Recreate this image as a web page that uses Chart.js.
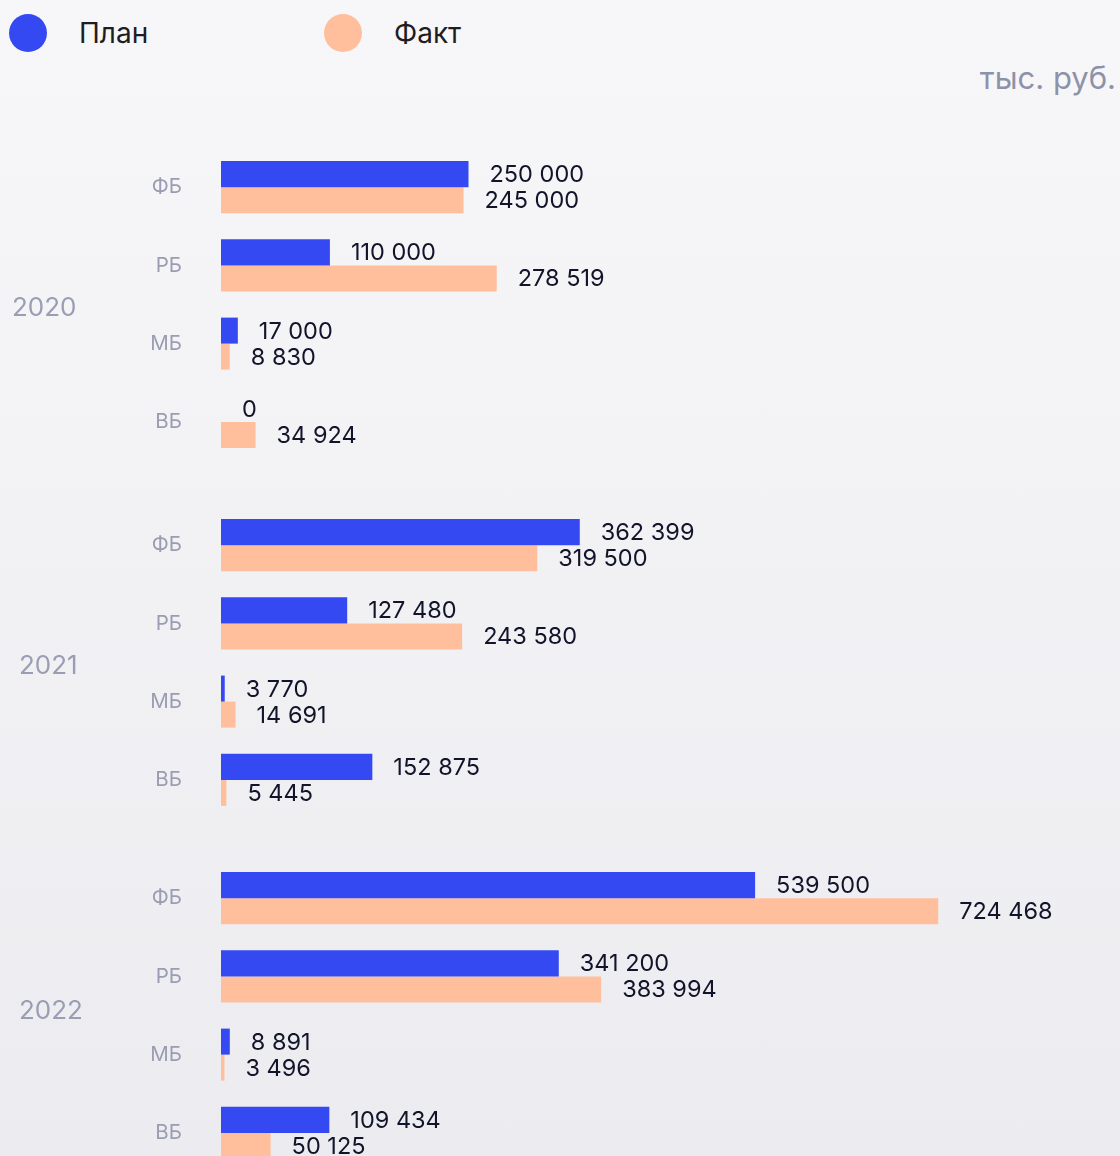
<!DOCTYPE html>
<html>
<head>
<meta charset="utf-8">
<script src="https://cdn.jsdelivr.net/npm/chart.js@4"></script>
<style>
  body {
    margin: 0;
    width: 1120px;
    height: 1156px;
    overflow: hidden;
    position: relative;
    font-family: Inter, sans-serif;
    background: linear-gradient(#f7f7f9, #ececf0);
  }
  .legend-item {
    position: absolute;
    top: 14px;
    height: 38px;
    line-height: 38px;
    font-size: 28px;
    color: #1e1e22;
  }
  .dot {
    position: absolute;
    left: 0;
    top: 0;
    width: 38px;
    height: 38px;
    border-radius: 50%;
  }
  .legend-item span.txt { position: absolute; left: 70px; white-space: nowrap; }
  .unit {
    position: absolute;
    right: 4px;
    top: 59px;
    font-size: 31px;
    color: #8e92a8;
  }
  .box { position: absolute; left: 0; width: 1120px; height: 313px; }
</style>
</head>
<body>
<div class="legend-item" id="lg0" style="left:9px"><div class="dot"></div><span class="txt"></span></div>
<div class="legend-item" id="lg1" style="left:324px"><div class="dot"></div><span class="txt"></span></div>
<div class="unit">тыс. руб.</div>

<div class="box" style="top:148px"><canvas id="c2020"></canvas></div>
<div class="box" style="top:506px"><canvas id="c2021"></canvas></div>
<div class="box" style="top:859px"><canvas id="c2022"></canvas></div>

<script>
var seriesNames = ["План", "Факт"];
var seriesColors = ["#3549f2", "#ffbf9c"];
var categories = ["ФБ", "РБ", "МБ", "ВБ"];
var years = ["2020", "2021", "2022"];

var plan2020 = [250000, 110000, 17000, 0];
var fact2020 = [245000, 278519, 8830, 34924];
var plan2021 = [362399, 127480, 3770, 152875];
var fact2021 = [319500, 243580, 14691, 5445];
var plan2022 = [539500, 341200, 8891, 109434];
var fact2022 = [724468, 383994, 3496, 50125];

var planByYear = [plan2020, plan2021, plan2022];
var factByYear = [fact2020, fact2021, fact2022];

// legend in html
seriesNames.forEach(function (name, i) {
  var el = document.getElementById("lg" + i);
  el.querySelector(".dot").style.background = seriesColors[i];
  el.querySelector(".txt").textContent = name;
});

Chart.defaults.font.family = "Inter";

function fmt(v) {
  return String(v).replace(/\B(?=(\d{3})+(?!\d))/g, " ");
}

var valueLabels = {
  id: "valueLabels",
  afterDatasetsDraw: function (chart) {
    var ctx = chart.ctx;
    ctx.save();
    ctx.font = "23.5px Inter";
    ctx.fillStyle = "#12142a";
    ctx.textBaseline = "middle";
    chart.data.datasets.forEach(function (ds, i) {
      chart.getDatasetMeta(i).data.forEach(function (bar, j) {
        ctx.fillText(fmt(ds.data[j]), bar.x + 21, bar.y + 1);
      });
    });
    ctx.restore();
  }
};

var yearLabel = {
  id: "yearLabel",
  afterDraw: function (chart, args, opts) {
    var ctx = chart.ctx;
    var a = chart.chartArea;
    ctx.save();
    ctx.font = "26px Inter";
    ctx.fillStyle = "#9a9eb4";
    ctx.textBaseline = "middle";
    ctx.fillText(opts.text, opts.x, (a.top + a.bottom) / 2 + opts.dy);
    ctx.restore();
  }
};

var yearX = [12, 19, 19];
var yearDy = [4, 4, -4];

years.forEach(function (year, k) {
  new Chart("c" + year, {
    type: "bar",
    data: {
      labels: categories,
      datasets: [{
        label: seriesNames[0],
        backgroundColor: seriesColors[0],
        data: planByYear[k]
      }, {
        label: seriesNames[1],
        backgroundColor: seriesColors[1],
        data: factByYear[k]
      }]
    },
    options: {
      indexAxis: "y",
      responsive: true,
      maintainAspectRatio: false,
      animation: false,
      categoryPercentage: 0.665,
      barPercentage: 1,
      layout: { padding: { left: 0, right: 107, top: 0, bottom: 0 } },
      scales: {
        x: { display: false, min: 0, max: 800000 },
        y: {
          grid: { display: false, drawTicks: false },
          border: { display: false },
          ticks: { color: "#9a9db2", font: { size: 20.5 }, padding: 39 },
          afterFit: function (scale) {
            scale.width = 221;
            scale.paddingTop = 0;
            scale.paddingBottom = 0;
          }
        }
      },
      plugins: {
        legend: { display: false },
        tooltip: { enabled: false },
        yearLabel: { text: year, x: yearX[k], dy: yearDy[k] }
      }
    },
    plugins: [valueLabels, yearLabel]
  });
});
</script>
</body>
</html>
